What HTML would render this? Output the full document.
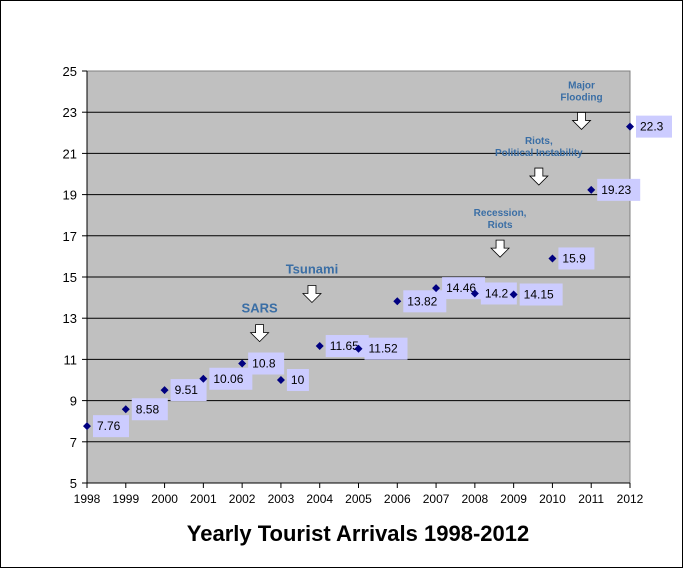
<!DOCTYPE html>
<html><head><meta charset="utf-8"><style>
body{margin:0;background:#fff}
svg{display:block;font-family:"Liberation Sans",Arial,sans-serif}
</style></head><body>
<svg width="683" height="568" viewBox="0 0 683 568">
<rect x="0.5" y="0.5" width="682" height="567" fill="#fff" stroke="#000"/>
<rect x="87" y="71" width="543" height="412" fill="#c0c0c0" stroke="#808080"/>
<g id="grid"></g><g id="axes"></g><g id="annots"></g><g id="marks"></g>
<text x="358" y="541" text-anchor="middle" font-size="22" font-weight="bold">Yearly Tourist Arrivals 1998-2012</text>
</svg>
<script>
const years=[1998,1999,2000,2001,2002,2003,2004,2005,2006,2007,2008,2009,2010,2011,2012];
const arrivals=[7.76,8.58,9.51,10.06,10.8,10,11.65,11.52,13.82,14.46,14.2,14.15,15.9,19.23,22.3];
const yTicks=[5,7,9,11,13,15,17,19,21,23,25];
const events=[["SARS"],["Tsunami"],["Recession,","Riots"],["Riots,","Political Instability"],["Major","Flooding"]];
const eventX=[2002.45,2003.8,2008.65,2009.65,2010.75];
const eventY=[12.3,14.2,16.4,19.9,22.6];
const NS="http://www.w3.org/2000/svg";
const X=v=>87+(v-1998)*(543/14);
const Y=v=>483-(v-5)*(412/20);
function mk(t,a,p){const e=document.createElementNS(NS,t);for(const k in a)e.setAttribute(k,a[k]);p.appendChild(e);return e;}
const grid=document.getElementById('grid'),axes=document.getElementById('axes'),marks=document.getElementById('marks'),ann=document.getElementById('annots');
yTicks.forEach(v=>{
 if(v>5&&v<25){const l=mk('line',{x1:87,x2:630,y1:Y(v),y2:Y(v),stroke:'#000'},grid);
 
 }
 mk('line',{x1:82,x2:87,y1:Y(v),y2:Y(v),stroke:'#000'},axes);
 const t=mk('text',{x:77,y:Y(v)+5,'text-anchor':'end','font-size':13},axes);t.textContent=v;
 
 
});
mk('line',{x1:87,x2:87,y1:71,y2:488,stroke:'#000'},axes);
mk('line',{x1:87,x2:630,y1:483,y2:483,stroke:'#000'},axes);
years.forEach(y=>{
 mk('line',{x1:X(y),x2:X(y),y1:483,y2:488,stroke:'#000'},axes);
 const t=mk('text',{x:X(y),y:503,'text-anchor':'middle','font-size':12},axes);t.textContent=y;
 
 
});
arrivals.forEach((v,i)=>{
 const x=X(years[i]),y=Y(v);
 const s=String(v);const w=s.length*7+8;
 const b=mk('rect',{x:x+6,y:y-11,width:w,height:22,fill:'#ccccff'},marks);
 
 
 const t=mk('text',{x:x+10,y:y+4,'font-size':12},marks);t.textContent=s;
 
 
 const d=mk('path',{d:`M${x} ${y-4}L${x+4} ${y}L${x} ${y+4}L${x-4} ${y}Z`,fill:'#000080'},marks);
 
 
});
events.forEach((lines,i)=>{
 const x=X(eventX[i]),ay=Y(eventY[i]);
 const big=lines.length===1&&i<2;
 const fs=big?13:10;
 lines.forEach((ln,j)=>{
  const t=mk('text',{x:x,y:ay-20-(lines.length-1-j)*12,'text-anchor':'middle','font-size':fs,'font-weight':'bold',fill:'#3a6ea5'},ann);
  t.textContent=ln;
  
  
 });
 const a=mk('path',{d:`M${x-4} ${ay-8}h8v8h5l-9 9l-9 -9h5z`,fill:'#fff',stroke:'#000','stroke-width':0.8},ann);
 
 
});
</script>
</body></html>
